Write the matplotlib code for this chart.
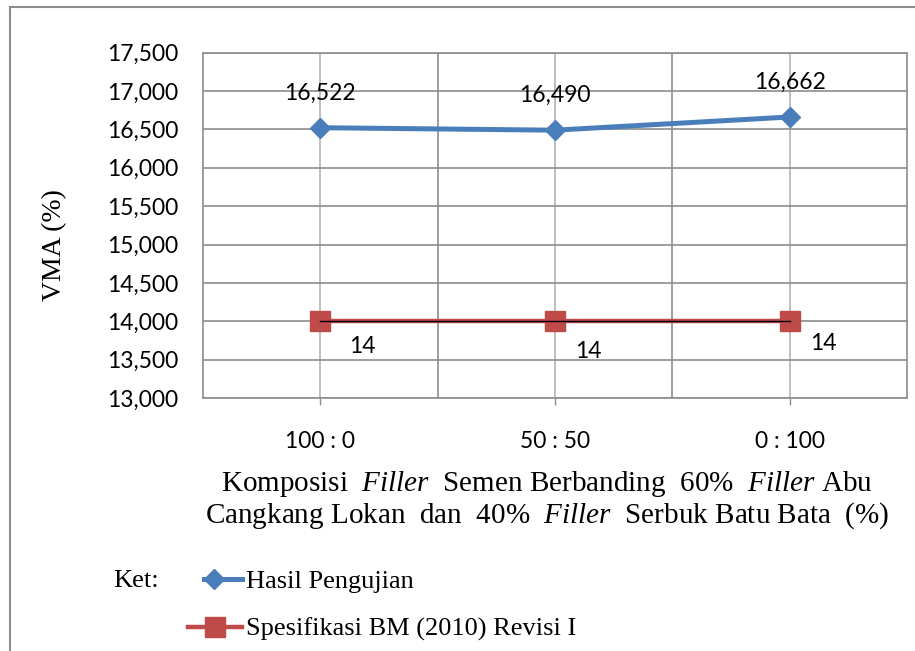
import matplotlib
matplotlib.use("Agg")
import matplotlib.pyplot as plt
from matplotlib.patches import Rectangle
from matplotlib.ticker import FuncFormatter
from matplotlib.legend_handler import HandlerLine2D
from matplotlib.lines import Line2D

# data
categories = ["100 : 0", "50 : 50", "0 : 100"]
hasil = [16.522, 16.490, 16.662]
spesifikasi = [14, 14, 14]
hasil_labels = ["16,522", "16,490", "16,662"]
spek_labels = ["14", "14", "14"]
y_ticks = [13.0, 13.5, 14.0, 14.5, 15.0, 15.5, 16.0, 16.5, 17.0, 17.5]

plt.rcParams['mathtext.fontset'] = 'custom'
plt.rcParams['mathtext.rm'] = 'Liberation Serif'
plt.rcParams['mathtext.it'] = 'Liberation Serif:italic'

blue = '#4a7ebb'
red = '#be4b48'
grid_dark = '#8c8c8c'
grid_light = '#b4b4b4'
sans = 'Lato'
serif = 'Liberation Serif'


class MarkerAt(HandlerLine2D):
    # legend line with its single marker placed at a fraction of the handle length
    def __init__(self, frac, **kw):
        super().__init__(numpoints=1, **kw)
        self.frac = frac

    def create_artists(self, legend, orig_handle, xdescent, ydescent,
                       width, height, fontsize, trans):
        x0 = -xdescent
        x1 = -xdescent + width
        xm = x0 + self.frac * width
        y = (height - ydescent) / 2
        line = Line2D([x0, xm, x1], [y, y, y])
        self.update_prop(line, orig_handle, legend)
        line.set_markevery([1])
        line.set_transform(trans)
        return [line]


fig = plt.figure(figsize=(9.15, 6.51), dpi=100)
ax = fig.add_axes([0.2219, 0.3886, 0.7694, 0.5305])

x = list(range(len(categories)))

ax.plot(x, hasil, color=blue, lw=3.6, marker='D', markersize=10.5, zorder=4)
ax.plot(x, spesifikasi, color=red, lw=3.2, marker='s', markersize=14.5, zorder=3)
ax.plot(x, spesifikasi, color='black', lw=1.0, zorder=3.5)

for xi, v, s in zip(x, hasil, hasil_labels):
    ax.annotate(s, (xi, v), xytext=(0, 25), textcoords='offset points',
                ha='center', va='center', fontsize=16.5, family=sans)
spek_offsets = [(30, -18), (24, -22), (24, -16)]
for xi, v, s, off in zip(x, spesifikasi, spek_labels, spek_offsets):
    ax.annotate(s, (xi, v), xytext=off, textcoords='offset points',
                ha='center', va='center', fontsize=16.5, family=sans)

ax.set_xlim(-0.5, 2.5)
ax.set_ylim(13.0, 17.5)
ax.set_yticks(y_ticks)
ax.yaxis.set_major_formatter(FuncFormatter(lambda v, p: f"{v:.3f}".replace('.', ',')))
ax.set_xticks(x)
ax.set_xticklabels(categories)
ax.set_xticks([0.5, 1.5], minor=True)

ax.tick_params(axis='y', length=0, pad=18, labelsize=16.5)
ax.tick_params(axis='x', which='major', length=5, width=1, color=grid_dark, pad=19, labelsize=16.5)
ax.tick_params(axis='x', which='minor', length=0)
for lab in ax.get_xticklabels() + ax.get_yticklabels():
    lab.set_family(sans)

ax.grid(axis='y', color=grid_dark, lw=1.2)
ax.grid(axis='x', which='major', color=grid_light, lw=1.2)
ax.grid(axis='x', which='minor', color=grid_dark, lw=1.2)
ax.set_axisbelow(True)
for sp in ax.spines.values():
    sp.set_color(grid_dark)
    sp.set_linewidth(1.2)

# axis titles
fig.text(0.060, 0.624, "VMA (%)", rotation=90, ha='center', va='center',
         fontsize=20, family=serif)
fig.text(0.598, 0.232,
         "Komposisi  $\\mathit{Filler}$  Semen Berbanding  60%  $\\mathit{Filler}$ Abu\n"
         "Cangkang Lokan  dan  40%  $\\mathit{Filler}$  Serbuk Batu Bata  (%)",
         ha='center', va='center', fontsize=21, family=serif, linespacing=1.05)

# legend
fig.text(0.124, 0.107, "Ket:", ha='left', va='center', fontsize=19, family=serif)
h1 = ax.lines[0]
h2 = ax.lines[1]
leg1 = fig.legend([h1], ["Hasil Pengujian"], loc='center left',
                  bbox_to_anchor=(0.223, 0.107), frameon=False,
                  handler_map={h1: MarkerAt(0.27)},
                  handlelength=1.45, handletextpad=0.15, borderpad=0, borderaxespad=0,
                  prop={'family': serif, 'size': 19})
leg2 = fig.legend([h2], ["Spesifikasi BM (2010) Revisi I"], loc='center left',
                  bbox_to_anchor=(0.205, 0.033), frameon=False,
                  handler_map={h2: MarkerAt(0.5)},
                  handlelength=2.05, handletextpad=0.15, borderpad=0, borderaxespad=0,
                  prop={'family': serif, 'size': 19})

# outer chart border
fig.patches.append(Rectangle((0.0109, -0.2), 1.2, 1.189, transform=fig.transFigure,
                             fill=False, edgecolor='#8c8c8c', lw=1.5))

fig.savefig("out.png", dpi=100)
